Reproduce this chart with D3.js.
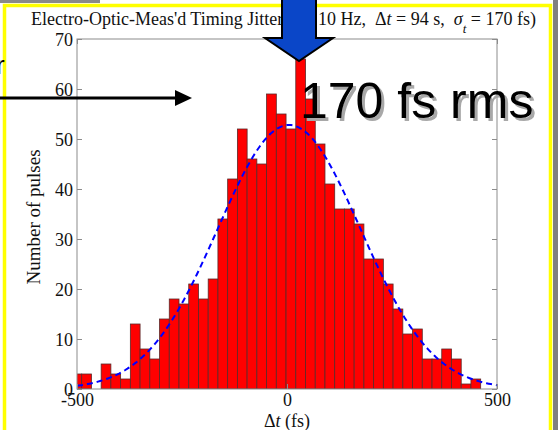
<!DOCTYPE html>
<html>
<head>
<meta charset="utf-8">
<script src="https://cdn.jsdelivr.net/npm/d3@7"></script>
<style>
  body { margin: 0; background: #fff; }
  svg { display: block; }
  .serif { font-family: "Liberation Serif", "Times New Roman", serif; fill: #111; white-space: pre; }
</style>
</head>
<body>
<div id="chart"></div>
<script>
// histogram of pulse arrival time offsets (fs)
const binStart = -512;
const binWidth = 23.17;
const counts = [3, 3, 0, 5, 3, 2, 13, 8, 6, 14, 18, 17, 21, 18, 22, 34, 42, 52, 46, 45, 59,
  55, 52, 66, 58, 49, 41, 36, 36, 33, 26, 26, 21, 16, 11, 12, 6, 6, 8, 6, 1, 2];

// gaussian fit parameters
const fitAmp = 52.8;
const fitMean = 5;
const fitSigma = 170;

const xTicks = [-500, 0, 500];
const yTicks = [0, 10, 20, 30, 40, 50, 60, 70];

const W = 558, H = 430;
const svg = d3.select("#chart").append("svg").attr("width", W).attr("height", H);

// slide frame
svg.append("rect").attr("x", 0).attr("y", 0).attr("width", 100).attr("height", 3).attr("fill", "#8a8a8a");
svg.append("rect").attr("x", 553).attr("y", 0).attr("width", 5).attr("height", H).attr("fill", "#808080");
svg.append("path")
  .attr("d", `M4.5,${H} V5.5 H550.5 V${H}`)
  .attr("fill", "none").attr("stroke", "#ffff00").attr("stroke-width", 3.5);

const x = d3.scaleLinear().domain([-500, 500]).range([77, 497]);
const y = d3.scaleLinear().domain([0, 70]).range([389, 39]);

svg.append("defs").append("clipPath").attr("id", "plotclip")
  .append("rect").attr("x", x(-500)).attr("y", y(70)).attr("width", x(500) - x(-500)).attr("height", y(0) - y(70));

const bins = counts.map((c, i) => ({ x0: binStart + i * binWidth, x1: binStart + (i + 1) * binWidth, c }));

const plot = svg.append("g").attr("clip-path", "url(#plotclip)");
plot.selectAll("rect.bar").data(bins.filter(d => d.c > 0)).join("rect")
  .attr("class", "bar")
  .attr("x", d => x(d.x0))
  .attr("y", d => y(d.c))
  .attr("width", d => x(d.x1) - x(d.x0))
  .attr("height", d => y(0) - y(d.c))
  .attr("fill", "#ff0000")
  .attr("stroke", "#5a2a2a")
  .attr("stroke-width", 0.8);

const fitPts = d3.range(-500, 501, 5).map(t => [t, fitAmp * Math.exp(-((t - fitMean) ** 2) / (2 * fitSigma * fitSigma))]);
plot.append("path")
  .datum(fitPts)
  .attr("d", d3.line().x(d => x(d[0])).y(d => y(d[1])))
  .attr("fill", "none")
  .attr("stroke", "#0000ff")
  .attr("stroke-width", 2)
  .attr("stroke-dasharray", "6,4");

// axes box with inward ticks
const axisColor = "#8c8c8c";
svg.append("rect")
  .attr("x", x(-500)).attr("y", y(70)).attr("width", x(500) - x(-500)).attr("height", y(0) - y(70))
  .attr("fill", "none").attr("stroke", axisColor).attr("stroke-width", 1);

const plainNum = d => String(d); // matlab style "-500", not unicode minus

const axLeft = svg.append("g").attr("transform", `translate(${x(-500)},0)`)
  .call(d3.axisLeft(y).tickValues(yTicks).tickSize(-5).tickPadding(4).tickFormat(plainNum));
const axRight = svg.append("g").attr("transform", `translate(${x(500)},0)`)
  .call(d3.axisRight(y).tickValues(yTicks).tickSize(-5).tickFormat(""));
const axBottom = svg.append("g").attr("transform", `translate(0,${y(0)})`)
  .call(d3.axisBottom(x).tickValues(xTicks).tickSize(-5).tickPadding(6).tickFormat(plainNum));
const axTop = svg.append("g").attr("transform", `translate(0,${y(70)})`)
  .call(d3.axisTop(x).tickValues(xTicks).tickSize(-5).tickFormat(""));

[axLeft, axRight, axBottom, axTop].forEach(g => {
  g.select(".domain").remove();
  g.selectAll(".tick line").attr("stroke", axisColor);
  g.selectAll(".tick text")
    .attr("font-family", "Liberation Serif, Times New Roman, serif")
    .attr("font-size", 18)
    .attr("fill", "#111");
});
axLeft.selectAll(".tick text").attr("dy", "0.36em");
axBottom.selectAll(".tick text").attr("dy", "0.62em");

// axis labels
const xl = svg.append("text").attr("class", "serif").attr("x", x(0)).attr("y", 427)
  .attr("text-anchor", "middle").attr("font-size", 18);
xl.append("tspan").text("Δ");
xl.append("tspan").attr("font-style", "italic").text("t");
xl.append("tspan").text(" (fs)");

svg.append("text").attr("class", "serif")
  .attr("transform", "translate(40,217) rotate(-90)")
  .attr("text-anchor", "middle").attr("font-size", 19)
  .text("Number of pulses");

// title (partly hidden behind the arrow)
svg.append("text").attr("class", "serif").attr("x", 31).attr("y", 25).attr("font-size", 18)
  .text("Electro-Optic-Meas'd Timing Jitter (@ ");
const t2 = svg.append("text").attr("class", "serif").attr("x", 318).attr("y", 25).attr("font-size", 18);
t2.append("tspan").text("10 Hz,  Δ");
t2.append("tspan").attr("font-style", "italic").text("t");
t2.append("tspan").text(" = 94 s,  ");
t2.append("tspan").attr("font-style", "italic").text("σ");
t2.append("tspan").attr("font-style", "italic").attr("font-size", 13).attr("dy", 8).text("t");
t2.append("tspan").attr("dy", -8).text(" = 170 fs)");

// annotation: horizontal arrow
svg.append("line").attr("x1", 0).attr("y1", 98).attr("x2", 178).attr("y2", 98)
  .attr("stroke", "#000").attr("stroke-width", 3);
svg.append("path").attr("d", "M192,98 L175,90 L175,106 Z").attr("fill", "#000");
svg.append("text").attr("x", -4).attr("y", 74)
  .attr("font-family", "Liberation Sans, Arial, sans-serif").attr("font-size", 26).attr("fill", "#000").text("r");

// annotation: blue down arrow
svg.append("path")
  .attr("d", "M282,-2 L316,-2 L316,38 L333,38 L299,61 L265,38 L282,38 Z")
  .attr("fill", "#0a46c8").attr("stroke", "#000").attr("stroke-width", 2).attr("stroke-linejoin", "miter");

// annotation text with shadow
const ann = "170 fs rms";
svg.append("text").attr("x", 303).attr("y", 121)
  .attr("font-family", "Liberation Sans, Arial, sans-serif").attr("font-size", 50).attr("fill", "#a8a8a8").text(ann);
svg.append("text").attr("x", 300).attr("y", 118)
  .attr("font-family", "Liberation Sans, Arial, sans-serif").attr("font-size", 50).attr("fill", "#000").text(ann);
</script>
</body>
</html>
